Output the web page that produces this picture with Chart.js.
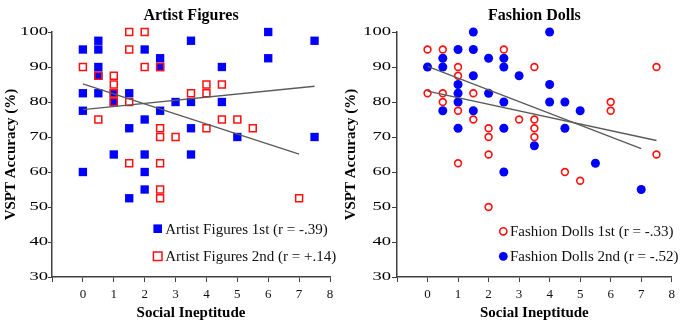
<!DOCTYPE html>
<html>
<head>
<meta charset="utf-8">
<script src="https://cdn.jsdelivr.net/npm/chart.js@4.4.1/dist/chart.umd.min.js"></script>
<style>
  html, body { margin: 0; padding: 0; background: #fff; }
  #wrap { position: relative; width: 680px; height: 322px; overflow: hidden; }
  .panel { position: absolute; top: 0; width: 340px; height: 322px; }
  #p1 { left: 0; } #p2 { left: 340px; }
</style>
</head>
<body>
<div id="wrap">
  <div class="panel" id="p1"><canvas id="c1" width="340" height="322"></canvas></div>
  <div class="panel" id="p2"><canvas id="c2" width="340" height="322"></canvas></div>
</div>
<script>
// ---- Data ----
const xTickLabels = ['0','1','2','3','4','5','6','7','8'];
const yTickValues = [30, 40, 50, 60, 70, 80, 90, 100];

// Artist Figures 1st (blue filled squares)
const artist1stX = [0,0,0,0, 0.5,0.5,0.5,0.5,0.5, 1,1,1, 1.5,1.5,1.5, 2,2,2,2,2, 2.5,2.5,2.5, 3, 3.5,3.5,3.5,3.5, 4.5,4.5, 5, 6,6, 7.5,7.5];
const artist1stY = [95,82.5,77.5,60, 97.5,95,90,87.5,82.5, 82.5,80,65, 82.5,72.5,52.5, 95,75,65,60,55, 92.5,90,77.5, 80, 97.5,80,72.5,65, 90,80, 70, 100,92.5, 97.5,70];

// Artist Figures 2nd (red open squares)
const artist2ndX = [0, 0.5,0.5, 1,1,1,1, 1.5,1.5,1.5,1.5, 2,2, 2.5,2.5,2.5,2.5,2.5,2.5, 3, 3.5, 4,4,4, 4.5,4.5, 5, 5.5, 7];
const artist2ndY = [90, 87.5,75, 87.5,85,82.5,80, 100,95,80,62.5, 100,90, 90,72.5,70,62.5,55,52.5, 70, 82.5, 85,82.5,72.5, 85,75, 75, 72.5, 52.5];

// Fashion Dolls 1st (red open circles)
const fashion1stX = [0,0, 0.5,0.5,0.5, 1,1,1,1, 1.5,1.5, 2,2,2,2, 2.5, 3, 3.5,3.5,3.5,3.5, 4.5, 5, 6,6, 7.5,7.5];
const fashion1stY = [95,82.5, 95,82.5,80, 90,87.5,77.5,62.5, 82.5,75, 72.5,70,65,50, 95, 75, 90,75,72.5,70, 60, 57.5, 80,77.5, 90,65];

// Fashion Dolls 2nd (blue filled circles)
const fashion2ndX = [0, 0.5,0.5,0.5, 1,1,1,1,1, 1.5,1.5,1.5,1.5, 2,2, 2.5,2.5,2.5,2.5,2.5, 3, 3.5, 4,4,4, 4.5,4.5, 5, 5.5, 7];
const fashion2ndY = [90, 92.5,90,77.5, 95,85,82.5,80,72.5, 100,95,87.5,77.5, 92.5,82.5, 92.5,90,80,72.5,60, 87.5, 67.5, 100,85,80, 80,72.5, 77.5, 62.5, 55];

// Trend lines (end points)
const artist1stTrendX = [0, 7];
const artist1stTrendY = [85.2, 65.1];
const artist2ndTrendX = [0, 7.5];
const artist2ndTrendY = [77.8, 84.5];
const fashion1stTrendX = [0, 7.5];
const fashion1stTrendY = [83.1, 69.0];
const fashion2ndTrendX = [0, 7];
const fashion2ndTrendY = [90.2, 66.7];

// ---- helpers ----
const SERIF = "'Liberation Serif', 'Times New Roman', serif";
const BLUE = '#0000FF';
const RED = '#FF1010';
const LINE = '#5a5a5a';
const AXIS = '#404040';

function pts(xs, ys) { return xs.map((x, i) => ({ x: x, y: ys[i] })); }

const stretchYTicks = {
  id: 'stretchYTicks',
  afterLayout(chart, args, opts) {
    const s = chart.scales.y;
    if (!s || s._stretched) return;
    const orig = s.drawLabels;
    s.drawLabels = function (area) {
      const ctx = this.ctx;
      const ax = this.right - this.options.grid.tickLength - this.options.ticks.padding;
      ctx.save();
      ctx.translate(ax, 0);
      ctx.scale(opts.k || 1, 1);
      ctx.translate(-ax, 0);
      orig.call(this, area);
      ctx.restore();
    };
    s._stretched = true;
  }
};

const insideLegend = {
  id: 'insideLegend',
  afterDraw(chart, args, opts) {
    const ctx = chart.ctx;
    const area = chart.chartArea;
    ctx.save();
    opts.items.forEach((it, i) => {
      const ds = chart.data.datasets.find(d => d.label === it.label);
      const mx = area.left + opts.dx;
      const my = area.top + opts.dy[i];
      ctx.beginPath();
      if (ds.pointStyle === 'rect') {
        const h = opts.box / 2;
        ctx.rect(mx - h, my - h, opts.box, opts.box);
      } else {
        ctx.arc(mx, my, ds.borderWidth ? opts.circle - ds.borderWidth / 2 : opts.circle, 0, Math.PI * 2);
      }
      if (ds.backgroundColor !== 'transparent') { ctx.fillStyle = ds.backgroundColor; ctx.fill(); }
      if (ds.borderWidth) { ctx.lineWidth = ds.borderWidth; ctx.strokeStyle = ds.borderColor; ctx.stroke(); }
      ctx.fillStyle = '#111';
      ctx.font = '15px ' + SERIF;
      ctx.textAlign = 'left';
      ctx.textBaseline = 'middle';
      ctx.fillText(it.label, mx + opts.textGap, my + 1);
    });
    ctx.restore();
  }
};

function makeChart(canvasId, titleText, datasets, cfg) {
  return new Chart(document.getElementById(canvasId), {
    type: 'scatter',
    data: { datasets: datasets },
    options: {
      responsive: false,
      animation: false,
      events: [],
      layout: { padding: { left: 0, right: cfg.padRight, top: 0, bottom: 0 } },
      plugins: {
        legend: { display: false },
        tooltip: { enabled: false },
        title: {
          display: true, text: titleText, fullSize: false, color: '#000',
          font: { family: SERIF, size: 16, weight: 'bold', lineHeight: 1.2 },
          padding: { top: 6, bottom: 6.8 }
        },
        stretchYTicks: { k: 1.55 },
        insideLegend: cfg.legend
      },
      scales: {
        x: {
          type: 'linear', min: -1, max: 8,
          afterFit: s => { s.height = 45; },
          afterBuildTicks: s => { s.ticks = [-1,0,1,2,3,4,5,6,7,8].map(v => ({ value: v })); },
          ticks: {
            stepSize: 1, padding: 5, color: '#111', autoSkip: false, maxRotation: 0,
            font: { family: SERIF, size: 13 },
            callback: v => (v < 0 ? '' : xTickLabels[v])
          },
          grid: { drawOnChartArea: false, drawTicks: true, tickLength: 5, color: AXIS, lineWidth: 1 },
          border: { display: true, color: AXIS, width: 1.5 },
          title: {
            display: true, text: 'Social Ineptitude', color: '#000',
            font: { family: SERIF, size: 15, weight: 'bold', lineHeight: 1.2 },
            padding: { top: 0, bottom: 0 }
          }
        },
        y: {
          type: 'linear', min: 30, max: 100,
          afterFit: s => { s.width = cfg.yWidth; },
          afterBuildTicks: s => { s.ticks = yTickValues.map(v => ({ value: v })); },
          ticks: {
            stepSize: 10, padding: cfg.yPad, color: '#000',
            font: { family: SERIF, size: 12 }
          },
          grid: { drawOnChartArea: false, drawTicks: true, tickLength: cfg.yTick, color: AXIS, lineWidth: 1 },
          border: { display: true, color: AXIS, width: 1.5 },
          title: {
            display: true, text: 'VSPT Accuracy (%)', color: '#000',
            font: { family: SERIF, size: 15, weight: 'bold', lineHeight: 1.2 },
            padding: { top: 2, bottom: 0 }
          }
        }
      }
    },
    plugins: [stretchYTicks, insideLegend]
  });
}

function trend(label, xs, ys) {
  return {
    label: label, data: pts(xs, ys), showLine: true, pointRadius: 0, clip: false,
    borderColor: LINE, borderWidth: 1.3, backgroundColor: LINE, fill: false
  };
}

// Left panel: Artist Figures
makeChart('c1', 'Artist Figures', [
  trend('trend1', artist1stTrendX, artist1stTrendY),
  trend('trend2', artist2ndTrendX, artist2ndTrendY),
  {
    label: 'Artist Figures 2nd (r = +.14)', data: pts(artist2ndX, artist2ndY), clip: false,
    pointStyle: 'rect', pointRadius: 4.9, borderWidth: 1.5,
    borderColor: RED, backgroundColor: 'transparent'
  },
  {
    label: 'Artist Figures 1st (r = -.39)', data: pts(artist1stX, artist1stY), clip: false,
    pointStyle: 'rect', pointRadius: 5.9, borderWidth: 0,
    borderColor: BLUE, backgroundColor: BLUE
  }
], {
  padRight: 10, yWidth: 52, yPad: 0, yTick: 4,
  legend: {
    dx: 105.7, dy: [196.7, 224.3], box: 8.6, circle: 4.2, textGap: 7.5,
    items: [{ label: 'Artist Figures 1st (r = -.39)' }, { label: 'Artist Figures 2nd (r = +.14)' }]
  }
});

// Right panel: Fashion Dolls
makeChart('c2', 'Fashion Dolls', [
  trend('trend1', fashion1stTrendX, fashion1stTrendY),
  trend('trend2', fashion2ndTrendX, fashion2ndTrendY),
  {
    label: 'Fashion Dolls 1st (r = -.33)', data: pts(fashion1stX, fashion1stY), clip: false,
    pointStyle: 'circle', pointRadius: 3.4, borderWidth: 1.6,
    borderColor: RED, backgroundColor: 'transparent'
  },
  {
    label: 'Fashion Dolls 2nd (r = -.52)', data: pts(fashion2ndX, fashion2ndY), clip: false,
    pointStyle: 'circle', pointRadius: 4.5, borderWidth: 0,
    borderColor: BLUE, backgroundColor: BLUE
  }
], {
  padRight: 7, yWidth: 57, yPad: 1, yTick: 5,
  legend: {
    dx: 106.3, dy: [199.3, 224.3], box: 8.6, circle: 4.4, textGap: 6.7,
    items: [{ label: 'Fashion Dolls 1st (r = -.33)' }, { label: 'Fashion Dolls 2nd (r = -.52)' }]
  }
});
</script>
</body>
</html>
